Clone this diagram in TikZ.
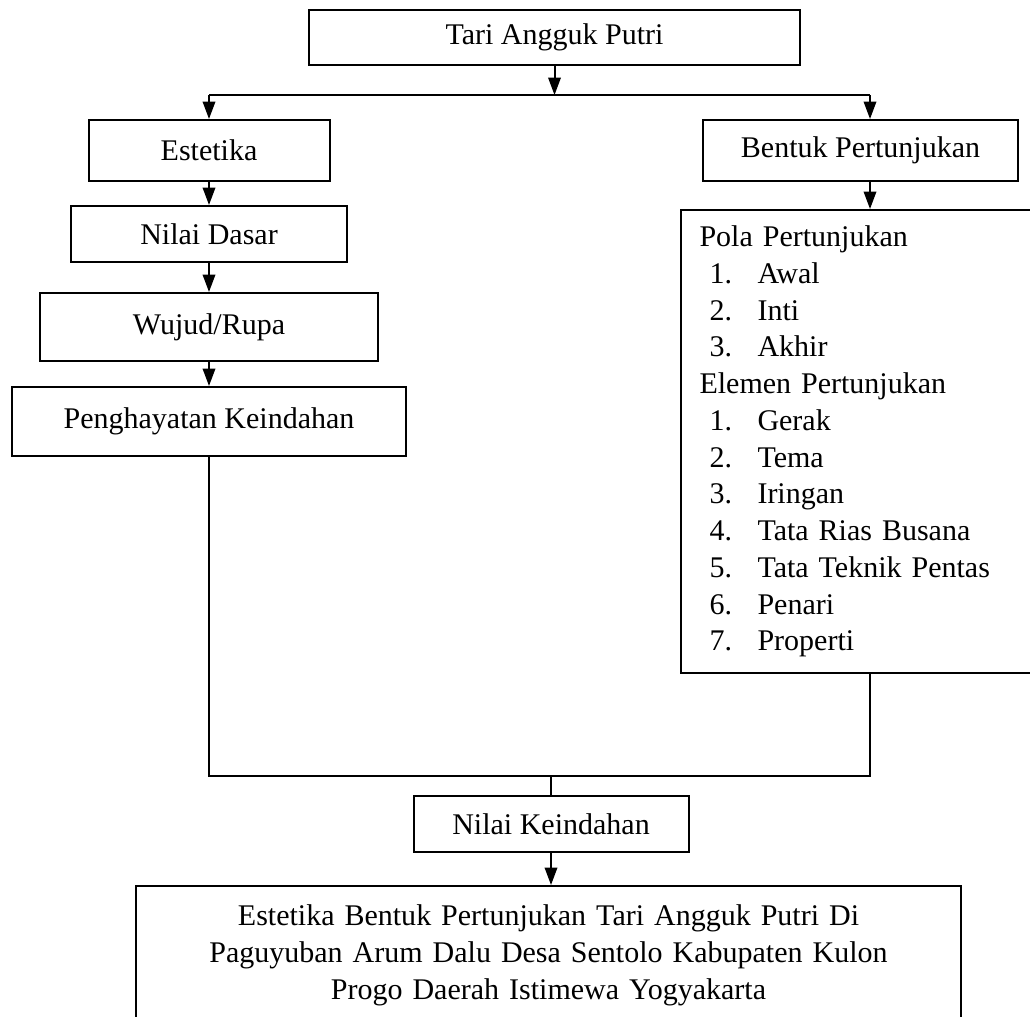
\documentclass[tikz,border=0pt]{standalone}
\usepackage{fontspec}
\setmainfont{Liberation Serif}
\usetikzlibrary{arrows.meta}
\newcommand{\itm}[2]{\makebox[23.2pt][l]{\hspace{4pt}#1.}#2}

\begin{document}
\begin{tikzpicture}[x=0.4pt,y=-0.4pt,
    box/.style={draw,line width=0.8pt,inner sep=0pt,font=\fontsize{12pt}{14.7pt}\selectfont},
    arr/.style={line width=0.8pt,-{Triangle[length=7pt,width=5pt]}},
    ln/.style={line width=0.7pt}]
   \useasboundingbox (0,0) rectangle (1030,1016);
   \node[box,minimum width=196.4pt,minimum height=22pt] (angguk) at (554.5,37.5) {Tari Angguk Putri};
   \node[box,minimum width=96.4pt,minimum height=24.4pt] (estetika) at (209,150.5) {Estetika};
   \node[box,minimum width=126pt,minimum height=24.4pt] (bentuk) at (860.5,150.5) {Bentuk Pertunjukan};
   \node[box,minimum width=110pt,minimum height=22.4pt] (dasar) at (209,234) {Nilai Dasar};
   \node[box,minimum width=134.8pt,minimum height=27.2pt] (wujud) at (209,327) {Wujud/Rupa};
   \node[box,minimum width=157.6pt,minimum height=27.6pt] (pengh) at (209,421.5) {Penghayatan Keindahan};
   \node[box,anchor=north west,minimum height=185.2pt,text width=130pt,inner xsep=7.4pt,align=left] (pola) at (680,209)
     {Pola Pertunjukan\\
      \itm{1}{Awal}\\
      \itm{2}{Inti}\\
      \itm{3}{Akhir}\\
      Elemen Pertunjukan\\
      \itm{1}{Gerak}\\
      \itm{2}{Tema}\\
      \itm{3}{Iringan}\\
      \itm{4}{Tata Rias Busana}\\
      \itm{5}{Tata Teknik Pentas}\\
      \itm{6}{Penari}\\
      \itm{7}{Properti}};
   \node[box,minimum width=110pt,minimum height=22.4pt] (nilai) at (551,824) {Nilai Keindahan};
   \node[box,anchor=north,text width=330pt,align=center,inner ysep=7.6pt] (hasil) at (548.5,885)
     {Estetika Bentuk Pertunjukan Tari Angguk Putri Di\\
      Paguyuban Arum Dalu Desa Sentolo Kabupaten Kulon\\
      Progo Daerah Istimewa Yogyakarta};

   \coordinate (fork) at (554.5,95);
   \coordinate (lj) at (209,95);
   \coordinate (rj) at (870,95);
   \coordinate (jm) at (551,776);
   \coordinate (jr) at (870,776);

   \draw[arr] (angguk) -- (fork);
   \draw[line width=0.8pt] (lj) -- (rj);
   \draw[arr] (lj) -- (estetika);
   \draw[arr] (rj) -- (rj |- bentuk.north);
   \draw[arr] (estetika) -- (dasar);
   \draw[arr] (dasar) -- (wujud);
   \draw[arr] (wujud) -- (pengh);
   \draw[arr] (rj |- bentuk.south) -- (rj |- pola.north);
   \draw[ln] (pengh.south) |- (jr) -- (jr |- pola.south);
   \draw[ln] (jm) -- (nilai);
   \draw[arr] (nilai.south) -- (nilai.south |- hasil.north);
  \end{tikzpicture}
\end{document}
